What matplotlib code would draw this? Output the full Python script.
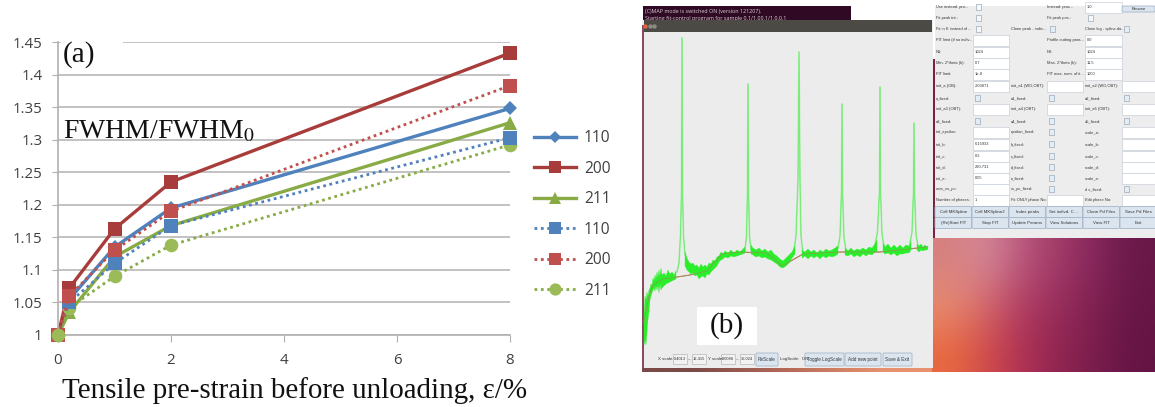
import numpy as np
import matplotlib
matplotlib.use("Agg")
import matplotlib.pyplot as plt
from matplotlib.patches import Rectangle, FancyBboxPatch
from matplotlib.colors import to_rgb

W, H = 1155, 407
SERIF = "Liberation Serif"
SANS = "Open Sans"
NARROW = ["Liberation Sans Narrow", "Liberation Sans"]
nan = float("nan")

# ---------------- panel (a) data
strain = [0, 0.2, 1, 2, 8]
s110 = [1, 1.055, 1.135, 1.195, 1.348]
s200 = [1, 1.072, 1.163, 1.235, 1.433]
s211 = [1, 1.035, 1.120, 1.168, 1.326]
d110 = [1, 1.050, 1.110, 1.168, 1.303]
d200 = [1, 1.060, 1.130, 1.190, 1.383]
d211 = [1, 1.042, 1.090, 1.138, 1.292]
yticks = [1, 1.05, 1.1, 1.15, 1.2, 1.25, 1.3, 1.35, 1.4, 1.45]
ylabels = ["1", "1.05", "1.1", "1.15", "1.2", "1.25", "1.3", "1.35", "1.4", "1.45"]
xticks = [0, 2, 4, 6, 8]

# ---------------- panel (b) spectrum, read in screen pixels
spec_x = [677, 679, 680.5, 681.5, 682, 682.5, 683.5, 685, nan,
          745, 746.5, 747.5, 748, 748.5, 749.5, 751, nan,
          794, 796, 798, 799, 800, 801, 803, nan,
          838, 840, 841.5, 842, 842.5, 844, 846, nan,
          875, 877.5, 879.5, 880, 880.5, 882, 884, nan,
          910, 912, 913.5, 914, 914.5, 916, 918]
spec_y = [272, 263, 235, 190, 38, 190, 235, 255, nan,
          250, 236, 190, 84, 190, 236, 250, nan,
          250, 236, 180, 52, 180, 236, 254, nan,
          248, 236, 190, 104, 190, 238, 250, nan,
          245, 232, 190, 87, 190, 234, 246, nan,
          243, 232, 190, 123, 190, 234, 246]
band_x = [644, 645, 646, 647, 648, 649, 650, 651, 652, 653, 654, 655, 656, 657, 658, 659, 660, 661, 662, 664, 666, 668,
          670, 672, 674, 676, nan,
          685, 687, 689, 691, 693, 695, 697, 699, 701, 703, 705, 707, 709, 711, 713, 715, 717, 719, 721, 723, 725, 728,
          731, 734, 737, 740, 743, 745, nan,
          751, 753, 756, 759, 762, 765, 768, 771, 774, 777, 780, 783, 786, 789, 792, 795, nan,
          802, 805, 808, 811, 814, 817, 820, 823, 826, 829, 832, 835, 838, nan,
          845, 848, 851, 854, 857, 860, 863, 866, 869, 872, 875, 877, nan,
          883, 885, 888, 891, 894, 897, 900, 903, 906, 909, 911, nan,
          917, 919, 921, 923, 925, 927, 928]
band_up = [315, 296, 300, 292, 297, 290, 288, 284, 285, 278, 281, 275, 279, 272, 277, 270, 276, 268, 275, 273, 276, 270,
           274, 272, 275, 271, nan,
           252, 258, 262, 264, 263, 266, 265, 268, 264, 267, 265, 267, 263, 264, 260, 261, 257, 256, 252, 254, 251, 253,
           250, 253, 250, 252, 249, 247, nan,
           245, 248, 250, 248, 251, 249, 252, 250, 254, 256, 259, 261, 258, 255, 252, 246, nan,
           250, 252, 249, 252, 250, 253, 250, 252, 249, 251, 250, 248, 246, nan,
           248, 251, 248, 251, 249, 250, 248, 250, 247, 248, 244, 240, nan,
           243, 247, 244, 248, 245, 248, 245, 248, 245, 246, 241, nan,
           244, 246, 244, 247, 245, 247, 246]
band_lo = [345, 340, 345, 332, 320, 312, 300, 296, 293, 290, 288, 291, 286, 290, 285, 293, 284, 290, 288, 286, 284, 283,
           282, 281, 280, 279, nan,
           266, 270, 272, 274, 273, 276, 275, 279, 277, 276, 278, 274, 275, 272, 270, 268, 266, 262, 260, 259, 257, 258,
           256, 257, 256, 255, 254, 253, nan,
           254, 255, 257, 256, 258, 257, 259, 260, 262, 264, 267, 268, 266, 263, 258, 254, nan,
           258, 256, 259, 256, 258, 256, 259, 256, 258, 256, 257, 256, 254, nan,
           255, 256, 254, 257, 255, 257, 254, 256, 254, 255, 252, 252, nan,
           252, 254, 253, 255, 253, 256, 254, 254, 253, 253, 250, nan,
           250, 252, 250, 251, 250, 250, 249]
fit_x = [644, 649, 653, 663, 677, 690, 707, 722, 740, 767, 782, 803, 840, 880, 927]
fit_y = [322, 296, 285, 279, 277, 275, 271, 254, 252, 253, 266, 254, 252, 252, 247]

# ---------------- panel (b) form texts
check_rows = [
    (7, "Use instead. pro...", "Instead: proc...", "1.0"),
    (18, "Fit peak int.:", "Fit peak pos.:", ""),
]
clone_row = (29, "Fit in K instead of ...", "Clone peak - indiv...", "Clone log - spline.da...")
entry_rows = [
    (40, "FIT limit (if no indiv...", "", "Profile cutting para...", "0.0"),
    (52, "N1:", "1024", "N2:", "1024"),
    (63, "Min. 2*theta (k):", "0.7", "Max. 2*theta (k):", "11.5"),
    (74, "FIT limit:", "1e-8", "FIT max. num. of it...", "1000"),
]
grid_rows = [
    (86, "init_a (OB):", "2.03871", "init_a1 (WO,OBT):", "", "init_a2 (WO,OBT):", ""),
    (98, "a_fixed:", None, "a1_fixed:", None, "a2_fixed:", None),
    (109, "init_a3 (OBT):", "", "init_a4 (OBT):", "", "init_a5 (OBT):", ""),
    (121, "a3_fixed:", None, "a4_fixed:", None, "a5_fixed:", None),
    (132, "init_epsilon:", "", "epsilon_fixed:", None, "scale_a:", ""),
    (144, "init_b:", "6.15933", "b_fixed:", None, "scale_b:", ""),
    (156, "init_c:", "0.2", "c_fixed:", None, "scale_c:", ""),
    (167, "init_d:", "220.731", "d_fixed:", None, "scale_d:", ""),
    (178, "init_e:", "0.05", "e_fixed:", None, "scale_e:", ""),
    (189, "wvs_vs_pc:", "", "vs_pc_fixed:", None, "d v_fixed:", None),
    (200, "Number of phases:", "1", "Fit ONLY phase No:", "", "Edit phase No:", ""),
]
button_rows = [
    (212, ["Call MKSpline", "Call MKSpline2", "Index peaks", "Set indivd. C ...", "Clone Pd Files", "Save Pd Files"]),
    (223, ["(Re)Start FIT", "Stop FIT", "Update Params", "View Solutions", "View FIT", "Exit"]),
]
bottom_labels = [(658, "X scale:"), (688.5, "\u2013"), (707.5, "Y scale:"), (736.5, "\u2013"), (780, "LogScale:  ON")]
bottom_fields = [(673, 687, "0.4013"), (692, 706, "12.415"), (721, 735, "0.0086"), (740, 754, "35.024")]
bottom_buttons = [(756, 778, "ReScale"), (805, 844, "Toggle LogScale"), (845, 881, "Add new point"), (883, 912, "Save & Exit")]
wall_grid = [
    ["#d67f7f", "#d48a9c", "#b8537a", "#a03a68", "#82245a", "#681848"],
    ["#e88f74", "#d5666c", "#ac3a62", "#962c5a", "#7c1f50", "#661644"],
    ["#e8683e", "#d04a4a", "#ac2f55", "#8e2450", "#761c4c", "#641444"],
]
strip_colors = ["#7a4a48", "#b56a58", "#e7926f"]

fig = plt.figure(figsize=(W / 100, H / 100), dpi=100, facecolor="white")

# ---- screen-pixel overlay for panel (b)
sc = fig.add_axes([0, 0, 1, 1])
sc.axis("off")


def box(x0, y0, x1, y1, color, z=1, **kw):
    sc.add_patch(Rectangle((x0, y0), x1 - x0, y1 - y0, facecolor=color, edgecolor=kw.pop("edge", "none"),
                           linewidth=kw.pop("lw", 0.6), zorder=z, **kw))


def small(x, y, s, size=2.9, ha="left", z=6, color="#333333"):
    sc.text(x, y, s, fontsize=size, family=NARROW, ha=ha, va="center", color=color, zorder=z)


def button(x0, y0, x1, y1, s, size=3.2):
    sc.add_patch(FancyBboxPatch((x0 + 1, y0 + 1), x1 - x0 - 2, y1 - y0 - 2, boxstyle="round,pad=1",
                                facecolor="#dbe5ef", edgecolor="#a6b6c8", linewidth=0.6, zorder=4))
    small((x0 + x1) / 2, (y0 + y1) / 2, s, size=size, ha="center")


def check(x, y, color="#e4ecf4"):
    box(x, y - 3, x + 5, y + 3, color, z=3, edge="#9aaabb", lw=0.5)


def entry(x0, x1, y, s):
    box(x0, y - 5, x1, y + 5.5, "white", z=3, edge="#c8d0d8", lw=0.5)
    small(x0 + 2, y, s)


wall = np.array([[to_rgb(c) for c in row] for row in wall_grid])
sc.imshow(wall, extent=(932, 1155, 372, 238), aspect="auto", interpolation="bicubic", zorder=0.5)
strip = np.array([[to_rgb(c) for c in strip_colors]])
sc.imshow(strip, extent=(642, 932, 372, 366), aspect="auto", interpolation="bilinear", zorder=0.5)
sc.set_xlim(0, W)
sc.set_ylim(H, 0)
box(932, 59, 936, 238, "#7d1f3e", z=0.6)

# terminal
box(643, 6, 851, 21, "#300a24")
sc.text(645, 11.5, "(C)MAP mode is switched ON (version 121207).", fontsize=3.9, family=SANS, va="center", color="#d8d0d4", zorder=1.5)
sc.text(645, 18.5, "Starting fit-control program for sample 0.1/1.00.1/1.0.0.1", fontsize=3.9, family=SANS, va="center", color="#d8d0d4", zorder=1.5)

# plot window
box(642, 20, 933, 368, "#ececec", z=2)
box(642, 25, 644, 368, "#8a4a5e", z=2.1)
box(644, 20, 932, 32, "#4b4a44", z=2.2)
for cx, col in zip([645, 649.5, 654], ["#e2603a", "#8c8a82", "#8c8a82"]):
    sc.plot([cx], [26], "o", ms=3.2, color=col, mec="none", zorder=2.3)

# spectrum
sc.plot(fit_x, fit_y, color="#c9786a", lw=0.8, zorder=3)
sc.plot(spec_x, spec_y, color="#a4f0a4", lw=1.2, zorder=3.1)
sc.plot(spec_x, spec_y, color="#66ea66", lw=0.5, zorder=3.2)
sc.fill_between(band_x, band_up, band_lo, color="#2aee2a", lw=0.2, zorder=3.3)
sc.plot(fit_x, fit_y, color="#8a9a50", lw=0.5, zorder=3.4)

# bottom bar of plot window
for x, s in bottom_labels:
    small(x, 359, s, size=3.2)
for x0, x1, s in bottom_fields:
    box(x0, 354, x1, 364, "#f2f2f2", z=3, edge="#b8b8b8", lw=0.5)
    small((x0 + x1) / 2, 359, s, size=2.9, ha="center")
for x0, x1, s in bottom_buttons:
    button(x0, 353, x1, 366, s, size=3.3)
box(697, 307, 757, 345, "white", z=5)
sc.text(727, 326, "(b)", fontsize=21, family=SERIF, ha="center", va="center", color="#111111", zorder=7)

# form window
box(935, 5, 1155, 238, "#ededed", z=2.5)
box(932, 0, 1155, 6, "white", z=2.6)
for y, l1, l2, v2 in check_rows:
    small(936, y, l1)
    check(976, y, "#f5f7fa")
    small(1047, y, l2)
    check(1088, y, "#f5f7fa")
entry(1085, 1122, 7, check_rows[0][3])
button(1122, 6, 1155, 12, "Browse")
y, l1, l2, l3 = clone_row
small(936, y, l1)
check(976, y, "#f5f7fa")
small(1011, y, l2)
check(1050, y)
small(1085, y, l3)
check(1124, y)
for y, l1, v1, l2, v2 in entry_rows:
    small(936, y, l1)
    entry(973, 1009, y, v1)
    small(1047, y, l2)
    entry(1085, 1122, y, v2)
for y, l1, v1, l2, v2, l3, v3 in grid_rows:
    for lx, bx0, bx1, lab, val in [(936, 973, 1009, l1, v1), (1011, 1047, 1083, l2, v2), (1085, 1122, 1155, l3, v3)]:
        small(lx, y, lab)
        if val is None:
            check(bx0 + 2, y)
        else:
            entry(bx0, bx1, y, val)
for y, labs in button_rows:
    for i, s in enumerate(labs):
        button(935 + i * 37, y - 5.5, 935 + (i + 1) * 37 - 0.5, y + 5.5, s)

# ---- panel (a)
x0px, x8px = 58, 510
top, bot = 42, 335
ax = fig.add_axes([x0px / W, 1 - bot / H, (x8px - x0px) / W, (bot - top) / H])
ax.patch.set_alpha(0)
ax.set_xlim(0, 8)
ax.set_ylim(1, 1.45)
blue, red, green = "#4f81bd", "#c0504d", "#9bbb59"
dblue, dred, dgreen = "#3d6ea8", "#a83c3a", "#88ab45"
ax.set_axisbelow(True)
ax.yaxis.grid(True, color="#b8b8b8", lw=1.2)
for s in ["top", "right"]:
    ax.spines[s].set_visible(False)
for s in ["left", "bottom"]:
    ax.spines[s].set_color("#b0b0b0")
    ax.spines[s].set_linewidth(1.2)
ax.set_xticks(xticks)
ax.set_yticks(yticks, ylabels)
ax.tick_params(axis="x", length=5, color="#b0b0b0", labelsize=10.8, labelcolor="#404040", pad=8)
ax.tick_params(axis="y", length=4.3, color="#b0b0b0", labelsize=10.8, labelcolor="#404040", pad=7)
for lb in ax.get_xticklabels() + ax.get_yticklabels():
    lb.set_family(SANS)

dots = (0, (1, 1.3))
kw = dict(clip_on=False, markeredgewidth=0)
ax.plot(strain, s110, "-D", color=blue, lw=2.4, ms=7, label="110", **kw)
ax.plot(strain, s211, "-^", color=dgreen, lw=2.4, ms=9.5, label="211_s", **kw)
ax.plot(strain, s200, "-s", color=dred, lw=2.4, ms=9.8, label="200", **kw)
ax.plot(strain, d211, color=dgreen, ls=dots, lw=2, marker="o", ms=9.8, mfc=green, label="211_d", **kw)
ax.plot(strain, d110, color=blue, ls=dots, lw=2, marker="s", ms=9.8, label="110_d", **kw)
ax.plot(strain, d200, color=red, ls=dots, lw=2, marker="s", ms=9.8, label="200_d", **kw)
ax.plot(strain[:1], d211[:1], "o", color=green, ms=9.8, zorder=5, **kw)

h, l = ax.get_legend_handles_labels()
m = dict(zip(l, h))
order = [m["110"], m["200"], m["211_s"], m["110_d"], m["200_d"], m["211_d"]]
leg_labels = ["110", "200", "211", "110", "200", "211"]
leg = ax.legend(order, leg_labels, loc="center left", bbox_to_anchor=(534 / W, 1 - 214.5 / H),
                bbox_transform=fig.transFigure, frameon=False, markerscale=0.9,
                handlelength=2.7, handletextpad=0.5, labelspacing=0.93, borderpad=0, borderaxespad=0,
                prop=dict(family=SANS, size=11.2))
for t in leg.get_texts():
    t.set_color("#404040")

fig.add_artist(Rectangle((61 / W, 1 - 70 / H), 62 / W, 34 / H, transform=fig.transFigure, facecolor="white",
                         edgecolor="none", zorder=5))
fig.text(63 / W, 1 - 55 / H, "(a)", fontsize=21, family=SERIF, color="#111111", va="center", zorder=8)
fig.text(63 / W, 1 - 132 / H, "FWHM/FWHM$_0$", fontsize=20, family=SERIF, color="#111111", va="center",
         math_fontfamily="stix", zorder=8)
fig.text(62 / W, 1 - 391 / H, "Tensile pre-strain before unloading, \u03b5/%", fontsize=20.9, family=SERIF,
         color="#111111", va="center")

fig.savefig("out.png", dpi=100)
